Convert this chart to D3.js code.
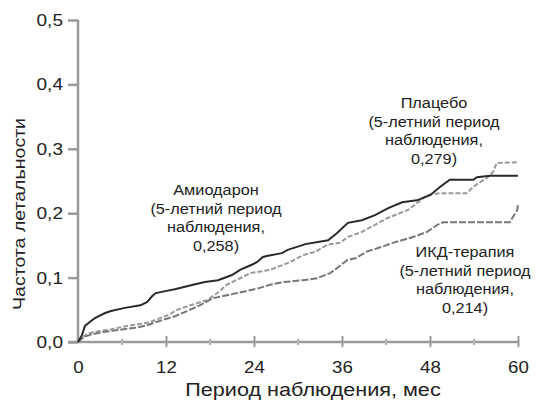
<!DOCTYPE html>
<html>
<head>
<meta charset="utf-8">
<script src="https://cdn.jsdelivr.net/npm/d3@7"></script>
<style>
  html, body { margin: 0; padding: 0; background: #fff; }
  svg { display: block; font-family: "Liberation Sans", Arial, sans-serif; }
</style>
</head>
<body>
<svg id="chart" width="539" height="400"></svg>
<script>
// Cumulative mortality curves: [month, mortality rate]
const amiodarone = [
  [0, 0], [0.55, 0.011], [0.95, 0.025], [1.6, 0.031], [2.3, 0.037], [3.7, 0.045],
  [4.5, 0.048], [6.4, 0.053], [8.5, 0.057], [9.4, 0.062], [10.1, 0.071], [10.6, 0.076],
  [11.9, 0.079], [13.2, 0.082], [15.7, 0.089], [17.3, 0.093], [19.1, 0.096], [21, 0.104],
  [22.1, 0.112], [23.7, 0.12], [24.4, 0.124], [25.2, 0.132], [25.9, 0.134], [27.8, 0.138],
  [28.6, 0.143], [31, 0.152], [34.1, 0.158], [35.3, 0.169], [36.8, 0.185], [38.7, 0.189],
  [40.5, 0.197], [42.3, 0.208], [44.2, 0.217], [46.2, 0.22], [48, 0.228], [49.4, 0.241],
  [50.7, 0.252], [53.9, 0.252], [54.4, 0.256], [56.2, 0.258], [60, 0.258]
];
const placebo = [
  [0, 0], [0.8, 0.009], [1.6, 0.014], [3, 0.017], [4.6, 0.02], [6.7, 0.025], [8.5, 0.028],
  [9.8, 0.031], [11.2, 0.037], [12.5, 0.043], [13.5, 0.05], [15.3, 0.057], [17.6, 0.065],
  [19, 0.076], [20.3, 0.089], [22.1, 0.099], [23.5, 0.107], [26.2, 0.112], [28.9, 0.124],
  [30.7, 0.135], [32.3, 0.14], [34, 0.151], [35.7, 0.154], [36.8, 0.163], [38.7, 0.171],
  [40.5, 0.182], [42.3, 0.193], [45, 0.205], [47.6, 0.228], [49.4, 0.231], [53, 0.231],
  [53.9, 0.241], [54.8, 0.248], [55.8, 0.255], [56.6, 0.264], [57.1, 0.278], [60, 0.279]
];
const icd = [
  [0, 0], [0.8, 0.008], [1.9, 0.012], [3.7, 0.016], [5.7, 0.019], [7.8, 0.022], [9.4, 0.026],
  [11.2, 0.033], [13.2, 0.04], [14.9, 0.048], [16.6, 0.057], [18.4, 0.068], [21.7, 0.076],
  [24.8, 0.084], [26.2, 0.089], [28, 0.093], [30.7, 0.096], [32.6, 0.099], [34.4, 0.107],
  [36.7, 0.127], [37.8, 0.13], [39.5, 0.141], [41.5, 0.148], [43.2, 0.155], [45.7, 0.163],
  [47.6, 0.171], [49, 0.182], [49.8, 0.186], [58.9, 0.186], [59.3, 0.194], [59.9, 0.205],
  [60, 0.214]
];

const xTicks = [0, 12, 24, 36, 48, 60];
const xMinorTicks = [6, 18, 30, 42, 54];
const yTicks = [0, 0.1, 0.2, 0.3, 0.4, 0.5];

const xTitle = "Период наблюдения, мес";
const yTitle = "Частота летальности";

const labels = [
  { lines: ["Амиодарон", "(5-летний период", "наблюдения,", "0,258)"], x: 216, y: 195 },
  { lines: ["Плацебо", "(5-летний период", "наблюдения,", "0,279)"], x: 434, y: 108 },
  { lines: ["ИКД-терапия", "(5-летний период", "наблюдения,", "0,214)"], x: 465, y: 257 }
];

const svg = d3.select("#chart");
const x = d3.scaleLinear().domain([0, 60]).range([78, 518]);
const y = d3.scaleLinear().domain([0, 0.5]).range([342, 20]);

const axisColor = "#9a9a9a";
const textColor = "#222";
const fmt = d => d3.format(".1f")(d).replace(".", ",");

// The lettering is slightly wide; stretch each text run horizontally
function widen(sel, k) {
  sel.each(function () {
    const w = this.getComputedTextLength();
    d3.select(this).attr("textLength", w * k).attr("lengthAdjust", "spacingAndGlyphs");
  });
}

// Y axis
const yAxis = svg.append("g").attr("transform", `translate(${x(0)},0)`)
  .call(d3.axisLeft(y).tickValues(yTicks).tickFormat(fmt).tickSize(10).tickPadding(5));
yAxis.select(".domain").attr("d", `M0,${y(0.5)}V${y(0)}`).attr("stroke", axisColor).attr("stroke-width", 2.5);
yAxis.selectAll(".tick line").attr("stroke", axisColor).attr("stroke-width", 2.5);
yAxis.selectAll(".tick text").attr("fill", textColor).attr("font-size", 17)
  .attr("font-family", "Liberation Sans, Arial, sans-serif").call(widen, 1.12);

// X axis
const xAxis = svg.append("g").attr("transform", `translate(0,${y(0)})`)
  .call(d3.axisBottom(x).tickValues(xTicks).tickFormat(d3.format("d")).tickSize(0).tickPadding(19));
xAxis.select(".domain").attr("d", `M${x(0) - 10},0H${x(60) + 1}`).attr("stroke", axisColor).attr("stroke-width", 2.5);
xAxis.selectAll(".tick text").attr("fill", textColor).attr("font-size", 17)
  .attr("font-family", "Liberation Sans, Arial, sans-serif").call(widen, 1.1);
xAxis.selectAll(".tick").filter(d => d > 0).append("line")
  .attr("y1", -6).attr("y2", 5).attr("stroke", axisColor).attr("stroke-width", 2);
xAxis.selectAll(".minor").data(xMinorTicks).enter().append("line")
  .attr("class", "minor")
  .attr("x1", d => x(d)).attr("x2", d => x(d)).attr("y1", -3).attr("y2", 3)
  .attr("stroke", "#b5b5b5").attr("stroke-width", 2);

// Axis titles
svg.append("text").attr("x", 313).attr("y", 396).attr("text-anchor", "middle")
  .attr("font-size", 18).attr("fill", textColor).text(xTitle).call(widen, 1.2);
svg.append("text").attr("transform", "translate(25,214) rotate(-90)").attr("text-anchor", "middle")
  .attr("font-size", 17).attr("fill", textColor).text(yTitle).call(widen, 1.15);

// Curves
const line = d3.line().x(d => x(d[0])).y(d => y(d[1]));
svg.append("path").datum(placebo).attr("d", line).attr("fill", "none")
  .attr("stroke", "#9a9a9a").attr("stroke-width", 2).attr("stroke-dasharray", "5,2");
svg.append("path").datum(icd).attr("d", line).attr("fill", "none")
  .attr("stroke", "#777").attr("stroke-width", 2).attr("stroke-dasharray", "7,2");
svg.append("path").datum(amiodarone).attr("d", line).attr("fill", "none")
  .attr("stroke", "#2a2a2a").attr("stroke-width", 2);

// Annotations
labels.forEach(l => {
  const t = svg.append("text").attr("text-anchor", "middle").attr("font-size", 15.5).attr("fill", textColor);
  l.lines.forEach((s, i) => {
    t.append("tspan").attr("x", l.x).attr("y", l.y + i * 18.5).text(s);
  });
  t.selectAll("tspan").call(widen, 1.05);
});
</script>
</body>
</html>
